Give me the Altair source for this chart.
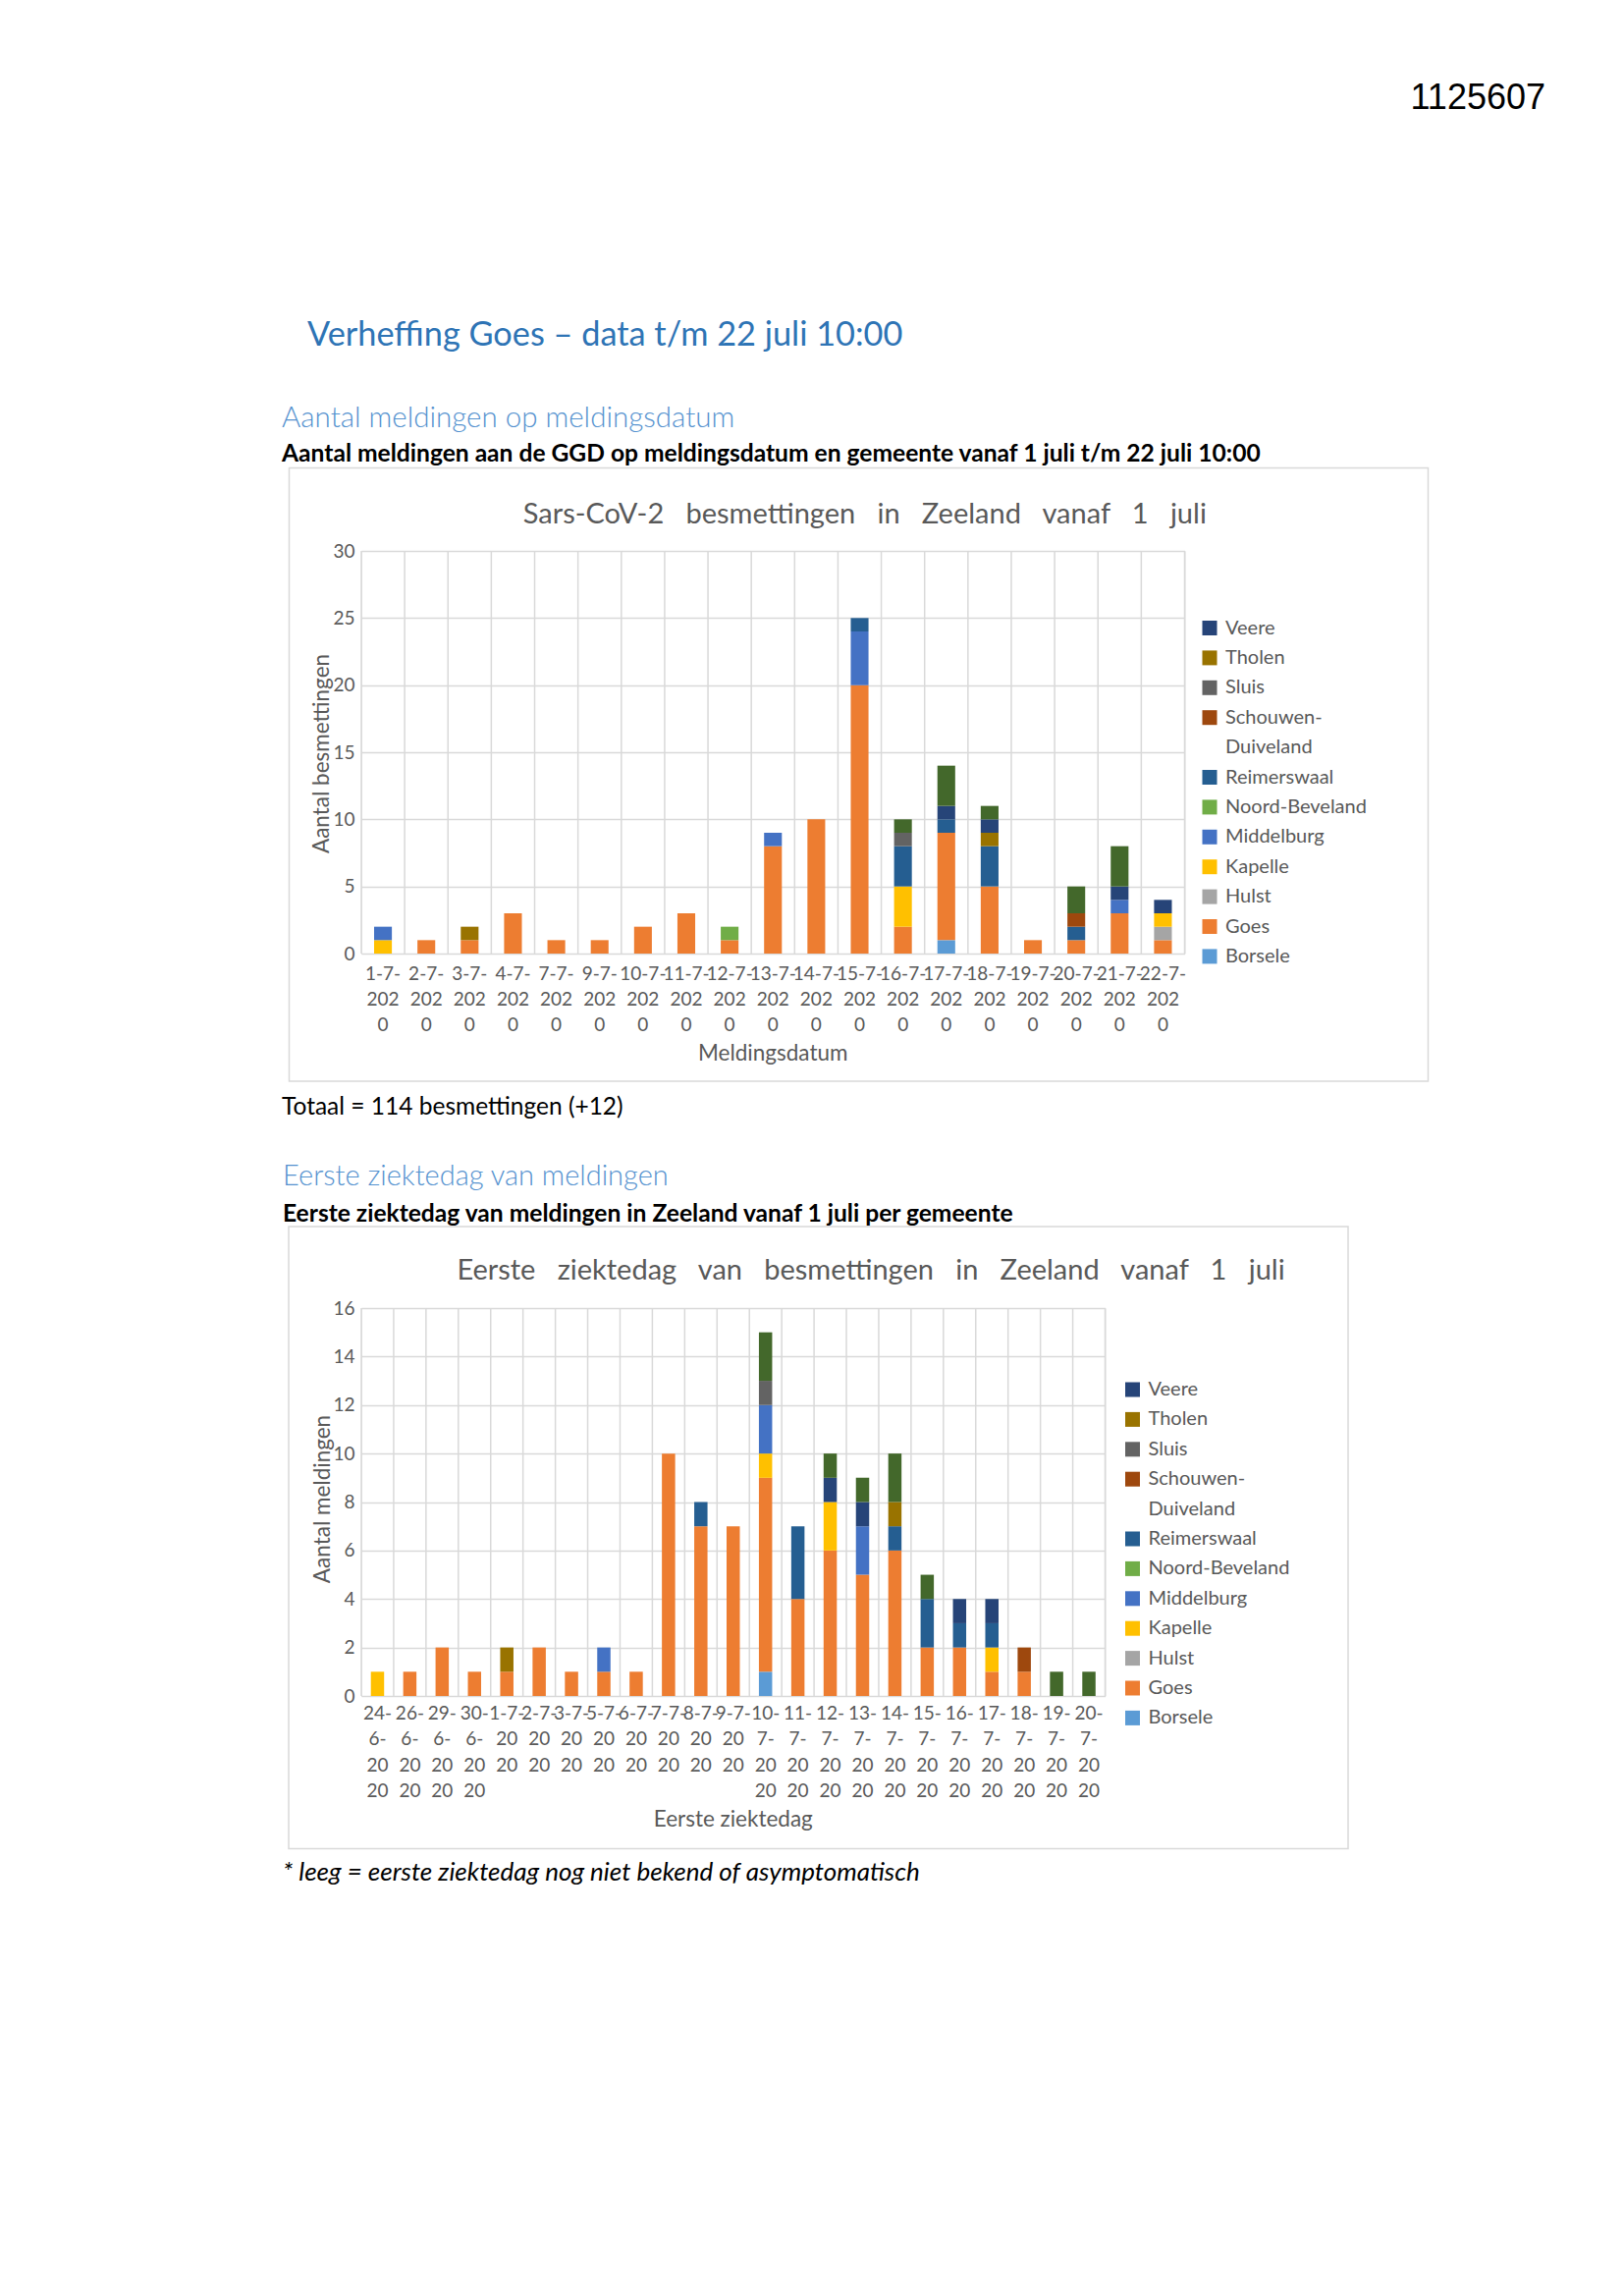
import altair as alt
import pandas as pd

FONT = "Lato"
GRID = "#D9D9D9"
AXIS_TXT = "#595959"

MUNICIPALITIES = ["Borsele", "Goes", "Hulst", "Kapelle", "Middelburg", "Noord-Beveland",
                  "Reimerswaal", "Schouwen-Duiveland", "Sluis", "Tholen", "Veere", "Vlissingen"]
COLORS = ["#5B9BD5", "#ED7D31", "#A5A5A5", "#FFC000", "#4472C4", "#70AD47",
          "#255E91", "#9E480E", "#636363", "#997300", "#264478", "#43682B"]
# "Duiveland" is only the second line of the Schouwen-Duiveland legend entry
LEGEND_ORDER = ["Veere", "Tholen", "Sluis", "Schouwen-Duiveland", "Duiveland", "Reimerswaal",
                "Noord-Beveland", "Middelburg", "Kapelle", "Hulst", "Goes", "Borsele"]

# ---- Chart 1: meldingsdatum ----
DATES_1 = ["1-7-2020", "2-7-2020", "3-7-2020", "4-7-2020",
           "7-7-2020", "9-7-2020", "10-7-2020", "11-7-2020",
           "12-7-2020", "13-7-2020", "14-7-2020", "15-7-2020",
           "16-7-2020", "17-7-2020", "18-7-2020", "19-7-2020",
           "20-7-2020", "21-7-2020", "22-7-2020"]
borsele_1 = [0, 0, 0, 0, 0, 0, 0, 0, 0, 0, 0, 0, 0, 1, 0, 0, 0, 0, 0]
goes_1 = [0, 1, 1, 3, 1, 1, 2, 3, 1, 8, 10, 20, 2, 8, 5, 1, 1, 3, 1]
hulst_1 = [0, 0, 0, 0, 0, 0, 0, 0, 0, 0, 0, 0, 0, 0, 0, 0, 0, 0, 1]
kapelle_1 = [1, 0, 0, 0, 0, 0, 0, 0, 0, 0, 0, 0, 3, 0, 0, 0, 0, 0, 1]
middelburg_1 = [1, 0, 0, 0, 0, 0, 0, 0, 0, 1, 0, 4, 0, 0, 0, 0, 0, 1, 0]
noordbeveland_1 = [0, 0, 0, 0, 0, 0, 0, 0, 1, 0, 0, 0, 0, 0, 0, 0, 0, 0, 0]
reimerswaal_1 = [0, 0, 0, 0, 0, 0, 0, 0, 0, 0, 0, 1, 3, 1, 3, 0, 1, 0, 0]
schouwen_1 = [0, 0, 0, 0, 0, 0, 0, 0, 0, 0, 0, 0, 0, 0, 0, 0, 1, 0, 0]
sluis_1 = [0, 0, 0, 0, 0, 0, 0, 0, 0, 0, 0, 0, 1, 0, 0, 0, 0, 0, 0]
tholen_1 = [0, 0, 1, 0, 0, 0, 0, 0, 0, 0, 0, 0, 0, 0, 1, 0, 0, 0, 0]
veere_1 = [0, 0, 0, 0, 0, 0, 0, 0, 0, 0, 0, 0, 0, 1, 1, 0, 0, 1, 1]
vlissingen_1 = [0, 0, 0, 0, 0, 0, 0, 0, 0, 0, 0, 0, 1, 3, 1, 0, 2, 3, 0]

# ---- Chart 2: eerste ziektedag ----
DATES_2 = ["24-6-2020", "26-6-2020", "29-6-2020", "30-6-2020",
           "1-7-2020", "2-7-2020", "3-7-2020", "5-7-2020",
           "6-7-2020", "7-7-2020", "8-7-2020", "9-7-2020",
           "10-7-2020", "11-7-2020", "12-7-2020", "13-7-2020",
           "14-7-2020", "15-7-2020", "16-7-2020", "17-7-2020",
           "18-7-2020", "19-7-2020", "20-7-2020"]
borsele_2 = [0, 0, 0, 0,  0, 0, 0, 0,  0, 0, 0, 0,  1, 0, 0, 0,  0, 0, 0, 0,  0, 0, 0]
goes_2 = [0, 1, 2, 1,  1, 2, 1, 1,  1, 10, 7, 7,  8, 4, 6, 5,  6, 2, 2, 1,  1, 0, 0]
hulst_2 = [0, 0, 0, 0,  0, 0, 0, 0,  0, 0, 0, 0,  0, 0, 0, 0,  0, 0, 0, 0,  0, 0, 0]
kapelle_2 = [1, 0, 0, 0,  0, 0, 0, 0,  0, 0, 0, 0,  1, 0, 2, 0,  0, 0, 0, 1,  0, 0, 0]
middelburg_2 = [0, 0, 0, 0,  0, 0, 0, 1,  0, 0, 0, 0,  2, 0, 0, 2,  0, 0, 0, 0,  0, 0, 0]
noordbeveland_2 = [0, 0, 0, 0,  0, 0, 0, 0,  0, 0, 0, 0,  0, 0, 0, 0,  0, 0, 0, 0,  0, 0, 0]
reimerswaal_2 = [0, 0, 0, 0,  0, 0, 0, 0,  0, 0, 1, 0,  0, 3, 0, 0,  1, 2, 1, 1,  0, 0, 0]
schouwen_2 = [0, 0, 0, 0,  0, 0, 0, 0,  0, 0, 0, 0,  0, 0, 0, 0,  0, 0, 0, 0,  1, 0, 0]
sluis_2 = [0, 0, 0, 0,  0, 0, 0, 0,  0, 0, 0, 0,  1, 0, 0, 0,  0, 0, 0, 0,  0, 0, 0]
tholen_2 = [0, 0, 0, 0,  1, 0, 0, 0,  0, 0, 0, 0,  0, 0, 0, 0,  1, 0, 0, 0,  0, 0, 0]
veere_2 = [0, 0, 0, 0,  0, 0, 0, 0,  0, 0, 0, 0,  0, 0, 1, 1,  0, 0, 1, 1,  0, 0, 0]
vlissingen_2 = [0, 0, 0, 0,  0, 0, 0, 0,  0, 0, 0, 0,  2, 0, 1, 1,  2, 1, 0, 0,  0, 1, 1]

SERIES_1 = [borsele_1, goes_1, hulst_1, kapelle_1, middelburg_1, noordbeveland_1, reimerswaal_1,
            schouwen_1, sluis_1, tholen_1, veere_1, vlissingen_1]
SERIES_2 = [borsele_2, goes_2, hulst_2, kapelle_2, middelburg_2, noordbeveland_2, reimerswaal_2,
            schouwen_2, sluis_2, tholen_2, veere_2, vlissingen_2]


def long_df(dates, series):
    rows = []
    for i, (m, vals) in enumerate(zip(MUNICIPALITIES, series)):
        assert len(vals) == len(dates)
        for d, v in zip(dates, vals):
            if v > 0:
                rows.append({"datum": d, "gemeente": m, "aantal": v, "volgorde": i})
    return pd.DataFrame(rows)


def label_lines_1(d):
    # Excel wraps "1-7-2020" into "1-7-" / "202" / "0"
    return [d[:-4], "202", "0"]


def label_lines_2(d):
    day, month = d.split("-")[0], d.split("-")[1]
    if len(day) == 2:
        return [day + "-", month + "-", "20", "20"]
    return [day + "-" + month + "-", "20", "20", ""]


df1 = long_df(DATES_1, SERIES_1)
df2 = long_df(DATES_2, SERIES_2)
one = pd.DataFrame({"k": [0]})

lab1 = pd.DataFrame({"datum": DATES_1})
for j in range(3):
    lab1[f"l{j}"] = [label_lines_1(d)[j] for d in DATES_1]
lab2 = pd.DataFrame({"datum": DATES_2})
for j in range(4):
    lab2[f"l{j}"] = [label_lines_2(d)[j] for d in DATES_2]


def txt(text, x, y, size, color="#000000", weight="normal", style="normal",
        align="left", font=FONT, baseline="middle", angle=0):
    return alt.Chart(one).mark_text(
        fontSize=size, color=color, fontWeight=weight, fontStyle=style,
        align=align, baseline=baseline, font=font, angle=angle
    ).encode(x=alt.value(x), y=alt.value(y), text=alt.value(text))


def box(x1, x2, y1, y2, stroke="#ffffff"):
    return alt.Chart(one).mark_rect(fillOpacity=0, stroke=stroke, strokeWidth=1.5).encode(
        x=alt.value(x1), x2=alt.value(x2), y=alt.value(y1), y2=alt.value(y2))


def legend(lx, ly):
    return alt.Legend(
        orient="none", legendX=lx, legendY=ly, values=LEGEND_ORDER, title=None,
        symbolType="square", symbolSize=225, symbolStrokeWidth=0,
        labelFontSize=20, labelColor=AXIS_TXT, labelFont=FONT, labelOffset=6,
        rowPadding=10.4, padding=0, labelLimit=300,
        labelExpr="datum.label == 'Schouwen-Duiveland' ? 'Schouwen-' : datum.label",
    )


def panel(df, labs, nlines, dates, W, H, ymax, ystep, leg, lab_y0):
    n = len(dates)
    step = W / n
    pin = 0.59
    xs = alt.Scale(domain=dates, paddingInner=pin, paddingOuter=pin / 2)
    xenc = alt.X("datum:N", sort=dates, scale=xs, axis=None)
    vgrid = alt.Chart(labs).mark_rule(color=GRID, strokeWidth=1.5, xOffset=-step / 2).encode(
        x=xenc, y=alt.value(0), y2=alt.value(H))
    vgrid_end = alt.Chart(one).mark_rule(color=GRID, strokeWidth=1.5).encode(
        x=alt.value(W), y=alt.value(0), y2=alt.value(H))
    bars = alt.Chart(df).mark_bar().encode(
        x=xenc,
        y=alt.Y("aantal:Q", stack="zero",
                scale=alt.Scale(domain=[0, ymax], nice=False),
                axis=alt.Axis(title=None, values=list(range(0, ymax + 1, ystep)),
                              labelFontSize=19, labelColor=AXIS_TXT, labelFont=FONT,
                              labelPadding=7, ticks=False, domain=False, grid=True,
                              gridColor=GRID, gridWidth=1.5)),
        color=alt.Color("gemeente:N",
                        scale=alt.Scale(domain=MUNICIPALITIES + ["Duiveland"],
                                        range=COLORS + ["#ffffff"]),
                        legend=leg),
        order=alt.Order("volgorde:Q", sort="ascending"),
    )
    label_layers = [
        alt.Chart(labs).mark_text(fontSize=19, color=AXIS_TXT, font=FONT, baseline="middle",
                                  y=H + lab_y0 + 26.3 * j).encode(x=xenc, text=f"l{j}:N")
        for j in range(nlines)
    ]
    return [vgrid, vgrid_end, bars] + label_layers


SP = " \u00a0\u00a0"

# Chart 1
W1, H1 = 838.5, 410
chart1 = alt.layer(
    box(-358.5, 1268, -551.5, 603),
    box(-73.5, 1086.5, -84.5, 540, stroke=GRID),
    *panel(df1, lab1, 3, DATES_1, W1, H1, 30, 5, legend(854, 68.5), 20.5),
    txt("Meldingsdatum", W1 / 2, 511.5, 22.5, color=AXIS_TXT, align="center"),
    txt("Aantal besmettingen", -40.5, H1 / 2 + 1.5, 22.5, color=AXIS_TXT, align="center",
        angle=270),
    txt("1125607", 1206, -461.5, 36, font="Liberation Sans", align="right"),
    txt("Verheffing Goes \u2013 data t/m 22 juli 10:00", -55, -219.5, 34.3, color="#2E74B5"),
    txt("Aantal meldingen op meldingsdatum", -81, -135.5, 29.5, color="#5592CF", weight=300),
    txt("Aantal meldingen aan de GGD op meldingsdatum en gemeente vanaf 1 juli t/m 22 juli 10:00",
        -81, -98.5, 24.6, weight="bold"),
    txt(SP.join("Sars-CoV-2 besmettingen in Zeeland vanaf 1 juli".split(" ")), 512.8, -37.5, 29,
        color=AXIS_TXT, align="center"),
    txt("Totaal = 114 besmettingen (+12)", -81, 566.5, 24.5),
).properties(width=W1, height=H1)

# Chart 2
W2, H2 = 757.5, 395
chart2 = alt.layer(
    box(-357.5, 1269, -164, 940),
    box(-74, 1005, -83, 550.5, stroke=GRID),
    *panel(df2, lab2, 4, DATES_2, W2, H2, 16, 2, legend(775.5, 73), 18),
    txt("Eerste ziektedag", W2 / 2, 521, 22.5, color=AXIS_TXT, align="center"),
    txt("Aantal meldingen", -39.5, H2 / 2 - 3, 22.5, color=AXIS_TXT, align="center", angle=270),
    txt("Eerste ziektedag van meldingen", -80, -134, 29, color="#5592CF", weight=300),
    txt("Eerste ziektedag van meldingen in Zeeland vanaf 1 juli per gemeente", -80, -95, 24.6,
        weight="bold"),
    txt(SP.join("Eerste ziektedag van besmettingen in Zeeland vanaf 1 juli".split(" ")), 519, -38,
        29, color=AXIS_TXT, align="center"),
    txt("* leeg = eerste ziektedag nog niet bekend of asymptomatisch", -80, 574.5, 26,
        style="italic"),
).properties(width=W2, height=H2)

chart = alt.vconcat(chart1, chart2, spacing=0, padding=0).resolve_scale(
    color="independent").resolve_legend(color="independent")

chart.save("out.html", embed_options={"renderer": "svg", "actions": False})
